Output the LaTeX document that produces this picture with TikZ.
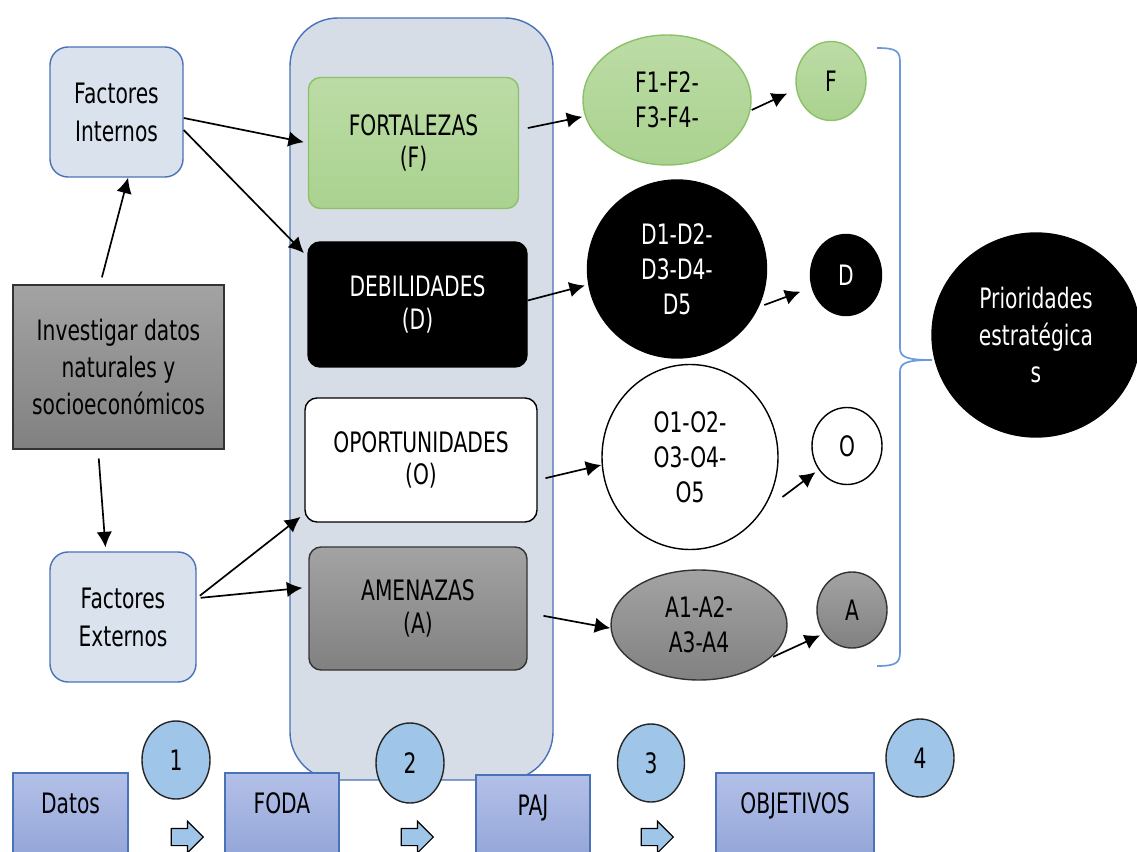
\documentclass[tikz,border=0pt]{standalone}
\usepackage{fontspec}
\setmainfont{DejaVu Sans}[FakeStretch=0.72]
\usepackage{tikz}
\usetikzlibrary{shapes.geometric}
\usetikzlibrary{shapes.arrows}
\usetikzlibrary{arrows.meta}
\usetikzlibrary{positioning}
\definecolor{marcofill}{HTML}{D7DDE6}
\definecolor{azulborde}{HTML}{4A72B8}
\definecolor{factorfill}{HTML}{DAE2EE}
\definecolor{verdefill}{HTML}{AAD28F}
\definecolor{verdeclaro}{HTML}{BCDCA6}
\definecolor{verdeborde}{HTML}{8CC168}
\definecolor{grisclaro}{HTML}{A3A3A3}
\definecolor{grisoscuro}{HTML}{818181}
\definecolor{celeste}{HTML}{9FC5E8}
\definecolor{lilaclaro}{HTML}{B3C0E8}
\definecolor{lilaoscuro}{HTML}{92A4D7}
\definecolor{llave}{HTML}{6C98DC}
\tikzset{every node/.style={font=\fontsize{20}{25}\selectfont,align=center},
sz/.style 2 args={minimum width=#1*0.025cm,minimum height=#2*0.025cm,inner sep=0pt},
marco/.style={draw=azulborde,fill=marcofill,line width=1pt,rounded corners=1.2cm},
factor/.style={draw=azulborde,fill=factorfill,line width=1pt,rounded corners=0.45cm,font=\fontsize{20}{27}\selectfont},
gris/.style={draw=black!80,top color=grisclaro,bottom color=grisoscuro,line width=1pt},
caja/.style={line width=1pt,rounded corners=0.3cm,font=\fontsize{20}{23}\selectfont},
verde/.style={draw=verdeborde,top color=verdeclaro,bottom color=verdefill},
negro/.style={draw=black,fill=black,text=white},
blanco/.style={draw=black,fill=white},
elip/.style={ellipse,line width=1pt},
abajo/.style={draw=azulborde,top color=lilaclaro,bottom color=lilaoscuro,line width=1pt,inner sep=0pt,text height=1cm,text depth=1.2cm},
num/.style={ellipse,draw=black!85,fill=celeste,line width=1pt},
flechita/.style={single arrow,draw=black,fill=celeste,line width=0.8pt,inner sep=0.2cm,minimum height=0.8cm,single arrow head extend=0.18cm},
arr/.style={-{Latex[length=11pt,width=11pt]},line width=1.2pt}}

\begin{document}
\begin{tikzpicture}[x=0.025cm,y=-0.025cm]
\useasboundingbox (0,0) rectangle (1137,852);
% marco del FODA
\node[marco,sz={263}{762}] (marco) at (421.5,399) {};
% datos de partida
\node[factor,sz={133}{130}] (fint) at (116.5,112) {Factores\\Internos};
\node[gris,sz={211}{164},font=\fontsize{20}{26}\selectfont] (inv) at (118.5,367) {Investigar datos\\naturales y\\socioeconómicos};
\node[factor,sz={146}{130}] (fext) at (123,617) {Factores\\Externos};
% FODA
\node[caja,verde,sz={210}{131}] (fort) at (413.5,143) {FORTALEZAS\\(F)};
\node[caja,negro,sz={219}{125}] (deb) at (417.5,304.5) {DEBILIDADES\\(D)};
\node[caja,blanco,sz={232}{124}] (opo) at (421,460) {OPORTUNIDADES\\(O)};
\node[caja,gris,rounded corners=0.3cm,sz={218}{123},text=black] (ame) at (418,608.5) {AMENAZAS\\(A)};
% listados
\node[elip,verde,sz={168}{130}] (f1) at (667,100) {F1-F2-\\F3-F4-};
\node[elip,negro,sz={179}{178}] (d1) at (677,269) {D1-D2-\\D3-D4-\\D5};
\node[elip,blanco,sz={176}{185}] (o1) at (690,457) {O1-O2-\\O3-O4-\\O5};
\node[elip,gris,sz={176}{110},text=black] (a1) at (699,625) {A1-A2-\\A3-A4};
\node[elip,verde,sz={70}{79}] (fs) at (831,81) {F};
\node[elip,negro,sz={71}{81}] (ds) at (846,275) {D};
\node[elip,blanco,sz={70}{77}] (os) at (847,446) {O};
\node[elip,gris,sz={70}{76}] (asm) at (852,610) {A};
\node[elip,negro,sz={208}{204},font=\fontsize{20}{26}\selectfont] (prio) at (1036,335) {Prioridades\\estratégica\\s};
% llave
\draw[llave,line width=1.2pt] (877,48) .. controls (896,48) and (900,51) .. (900,62) -- (900,348) .. controls (900,357) and (906,360) .. (932,360) .. controls (906,360) and (900,363) .. (900,372) -- (900,652) .. controls (900,663) and (896,666) .. (877,666);
% flechas
\draw[arr,shorten <=0.18cm] ([xshift=-0.46cm]inv.north) -- ([xshift=0.29cm]fint.south);
\draw[arr,shorten <=0.22cm,shorten >=0.1cm] ([xshift=-0.51cm]inv.south) -- ([xshift=-0.43cm]fext.north);
\draw[arr,shorten >=0.1cm] ([yshift=-0.15cm]fint.east) -- (fort.west);
\draw[arr,shorten >=0.12cm] ([yshift=-0.45cm]fint.east) -- ([yshift=-0.38cm]deb.north west);
\draw[arr,shorten <=0.1cm,shorten >=0.12cm] ([yshift=0.47cm]fext.east) -- ([yshift=0.22cm]opo.south west);
\draw[arr,shorten <=0.1cm,shorten >=0.15cm] ([yshift=0.47cm]fext.east) -- ([yshift=0.53cm]ame.west);
\draw[arr,shorten <=0.22cm] ([yshift=0.33cm]fort.east) -- ([yshift=-0.42cm]f1.west);
\draw[arr,shorten >=0.05cm] ([yshift=0.1cm]deb.east) -- ([yshift=-0.4cm]d1.west);
\draw[arr,shorten <=0.2cm] ([yshift=-0.5cm]opo.east) -- ([yshift=-0.2cm]o1.west);
\draw[arr,shorten <=0.4cm] ([yshift=-0.11cm]ame.east) -- ([yshift=-0.08cm]a1.west);
\draw[arr,shorten >=0.22cm] ([yshift=-0.25cm]f1.east) -- ([yshift=-0.22cm]fs.west);
\draw[arr,shorten <=0.15cm,shorten >=0.25cm] (d1.-25) -- ([yshift=-0.33cm]ds.west);
\draw[arr,shorten <=0.12cm,shorten >=0.1cm] ([yshift=-1.07cm]o1.east) -- (os.-140);
\draw[arr,shorten <=0.08cm,shorten >=0.1cm] (a1.-25) -- (asm.-140);
% pasos
\node[abajo,minimum width=115*0.025cm] (datos) at (70.5,817) {Datos};
\node[abajo,minimum width=114*0.025cm] (foda) at (282,817) {FODA};
\node[abajo,minimum width=114*0.025cm] (paj) at (533,819) {PAJ};
\node[abajo,minimum width=158*0.025cm] (obj) at (795,817) {OBJETIVOS};
\node[num,sz={68}{78}] (n1) at (176,760) {1};
\node[num,sz={68}{80}] (n2) at (410,763) {2};
\node[num,sz={67}{78}] (n3) at (651,763) {3};
\node[num,sz={68}{78}] (n4) at (920,758) {4};
\node[flechita] (p1) at (183,837) {};
\node[flechita] (p2) at (413,837) {};
\node[flechita] (p3) at (653,837) {};
\end{tikzpicture}
\end{document}
